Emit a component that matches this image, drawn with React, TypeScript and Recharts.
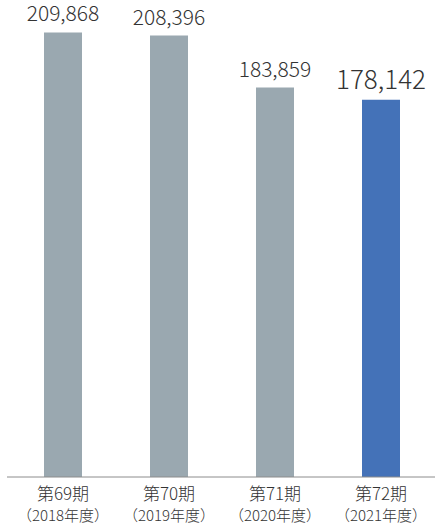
import React from "react";
import { BarChart, Bar, XAxis, YAxis, Cell, LabelList } from "recharts";

const periods = ["第69期", "第70期", "第71期", "第72期"];
const years = ["（2018年度）", "（2019年度）", "（2020年度）", "（2021年度）"];
const values = [209868, 208396, 183859, 178142];
const barColors = ["#9aa8b0", "#9aa8b0", "#9aa8b0", "#4472b8"];

const data = periods.map((p, i) => ({ period: p, year: years[i], value: values[i] }));

const FONT = "'Noto Sans CJK JP', 'Noto Sans', sans-serif";

const CategoryTick = (props: any) => {
  const { x, y, payload, index } = props;
  return (
    <g>
      <text x={x} y={y + 15} textAnchor="middle" fontSize={17} fontWeight={300} fill="#333" fontFamily={FONT}>
        {payload.value}
      </text>
      <text x={x} y={y + 36} textAnchor="middle" fontSize={15} fontWeight={300} fill="#333" fontFamily={FONT}>
        {years[index]}
      </text>
    </g>
  );
};

const ValueLabel = (props: any) => {
  const { x, y, width, value, index } = props;
  const last = index === values.length - 1;
  return (
    <text
      x={x + width / 2}
      y={y - 11}
      textAnchor="middle"
      fontSize={last ? 26 : 21}
      fontWeight={300}
      fill="#333"
      fontFamily={FONT}
    >
      {value.toLocaleString("en-US")}
    </text>
  );
};

export default function App() {
  return (
    <div style={{ position: "absolute", left: 0, top: 0, width: 435, height: 526, background: "#fff" }}>
      <BarChart
        width={435}
        height={526}
        data={data}
        margin={{ top: 11, right: 0, bottom: 0, left: 7 }}
      >
        <XAxis
          dataKey="period"
          axisLine={{ stroke: "#8c8c8c", strokeWidth: 1 }}
          tickLine={false}
          tick={<CategoryTick />}
          interval={0}
          padding={{ left: 3, right: 1 }}
          height={49}
        />
        <YAxis hide domain={[0, 220000]} />
        <Bar dataKey="value" barSize={38} isAnimationActive={false}>
          {data.map((_d, i) => (
            <Cell key={`c-${i}`} fill={barColors[i]} />
          ))}
          <LabelList dataKey="value" content={<ValueLabel />} />
        </Bar>
      </BarChart>
    </div>
  );
}
